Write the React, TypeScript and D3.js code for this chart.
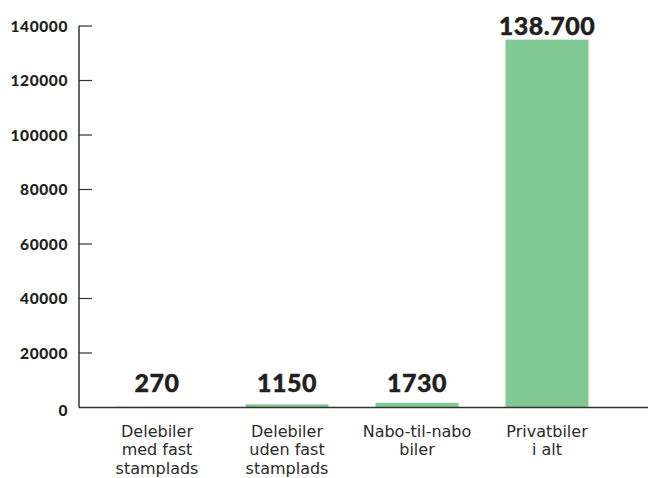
import React from "react";
import * as d3 from "d3";

const categories: string[][] = [
  ["Delebiler", "med fast", "stamplads"],
  ["Delebiler", "uden fast", "stamplads"],
  ["Nabo-til-nabo", "biler"],
  ["Privatbiler", "i alt"],
];
const values: number[] = [270, 1150, 1730, 135000];
const valueLabels: string[] = ["270", "1150", "1730", "138.700"];
const yTicks: number[] = [0, 20000, 40000, 60000, 80000, 100000, 120000, 140000];

const W = 648;
const H = 478;
const axisX = 79;
const y0 = 407.5;
const yTop = 26;
const FONT = "Lato, 'Open Sans', sans-serif";
const TEXT = "#231f20";

export default function App() {
  const y = d3.scaleLinear().domain([0, 140000]).range([y0, yTop]);
  const x = d3
    .scaleBand<number>()
    .domain(values.map((_, i) => i))
    .range([92, 612])
    .paddingInner(47 / 130)
    .paddingOuter(47 / 130 / 2);

  return (
    <svg
      width={W}
      height={H}
      style={{ position: "absolute", left: 0, top: 0, background: "#fff" }}
    >
      {values.map((v, i) => (
        <rect
          key={"b" + i}
          x={x(i)}
          y={y(v)}
          width={x.bandwidth()}
          height={y0 - y(v)}
          fill="#80c994"
        />
      ))}
      <line x1={axisX} x2={axisX} y1={yTop} y2={y0} stroke="#333" strokeWidth={1.5} />
      <line x1={axisX} x2={W} y1={y0} y2={y0} stroke="#333" strokeWidth={1.5} />
      {yTicks.map((t) => (
        <g key={"t" + t}>
          {t > 0 && (
            <line x1={axisX} x2={92} y1={y(t)} y2={y(t)} stroke="#333" strokeWidth={1.2} />
          )}
          <text
            x={68}
            y={y(t) + (t === 0 ? 8 : 5.5)}
            textAnchor="end"
            fontFamily={FONT}
            fontWeight={900}
            fontSize={15.5}
            letterSpacing={0.6}
            fill={TEXT}
          >
            {t}
          </text>
        </g>
      ))}
      {values.map((v, i) => {
        const cx = (x(i) as number) + x.bandwidth() / 2;
        const by = Math.min(y(v) - 5, 392);
        return (
          <text
            key={"v" + i}
            x={cx}
            y={by}
            textAnchor="middle"
            fontFamily={FONT}
            fontWeight={900}
            fontSize={25}
            letterSpacing={0.5}
            fill={TEXT}
            stroke={TEXT}
            strokeWidth={0.4}
          >
            {valueLabels[i]}
          </text>
        );
      })}
      {categories.map((lines, i) => {
        const cx = (x(i) as number) + x.bandwidth() / 2;
        return (
          <text
            key={"c" + i}
            textAnchor="middle"
            fontFamily="'DejaVu Sans', sans-serif"
            fontSize={16}
            fill="#2b2b2b"
          >
            {lines.map((l, j) => (
              <tspan key={j} x={cx} y={437 + j * 18.3}>
                {l}
              </tspan>
            ))}
          </text>
        );
      })}
    </svg>
  );
}
